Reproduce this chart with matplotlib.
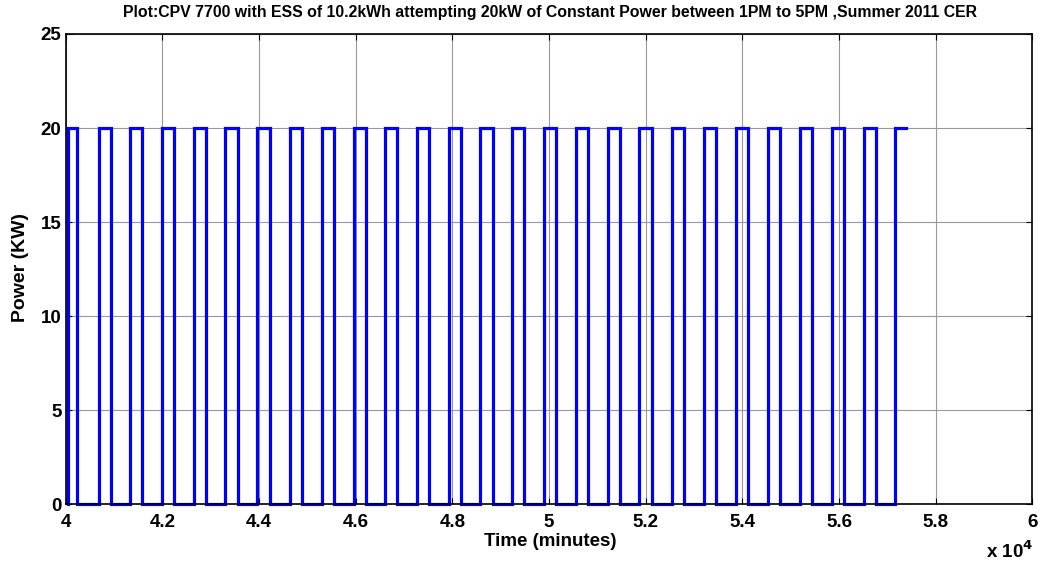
import matplotlib
matplotlib.use("Agg")
import matplotlib.pyplot as plt
from matplotlib.ticker import FuncFormatter, MultipleLocator

# Pulse edges (time in minutes)
rise_times = [40043, 40685, 41332, 41995, 42650, 43304, 43966, 44637, 45305, 45967,
              46608, 47270, 47926, 48580, 49236, 49892, 50560, 51216, 51870, 52540,
              53202, 53871, 54527, 55195, 55857, 56513, 57167]
fall_times = [40240, 40939, 41586, 42249, 42904, 43558, 44220, 44891, 45559, 46221,
              46862, 47524, 48180, 48834, 49490, 50146, 50814, 51470, 52124, 52794,
              53456, 54125, 54781, 55449, 56111, 56767]
end_time = 57378
power_on = 20
power_off = 0

# Build step trace
xs, ys = [], []
for i, r in enumerate(rise_times):
    xs += [r, r]
    ys += [power_off, power_on]
    if i < len(fall_times):
        f = fall_times[i]
        xs += [f, f]
        ys += [power_on, power_off]
    else:
        xs.append(end_time)
        ys.append(power_on)

plt.rcParams['font.family'] = ['Liberation Sans', 'DejaVu Sans']
plt.rcParams['font.weight'] = 'bold'

W, H = 1044, 563
fig = plt.figure(figsize=(W/100, H/100), dpi=100)
ax = fig.add_axes([65.7/W, 1 - 504.3/H, (1032.3-65.7)/W, (504.3-34)/H])

ax.plot(xs, ys, color='#0000ff', lw=2.3, solid_joinstyle='miter', clip_on=False, zorder=2)

ax.set_xlim(40000, 60000)
ax.set_ylim(0, 25)
ax.xaxis.set_major_locator(MultipleLocator(2000))
ax.yaxis.set_major_locator(MultipleLocator(5))
ax.xaxis.set_major_formatter(FuncFormatter(lambda v, p: f"{v/1e4:g}"))

ax.grid(True, color='#999999', lw=0.8, ls='-')
ax.set_axisbelow(True)
ax.tick_params(direction='in', top=True, right=True, length=4, width=0.8,
               labelsize=13.5)
ax.tick_params(axis='x', pad=7)
ax.tick_params(axis='y', pad=3)
for lab in ax.get_xticklabels() + ax.get_yticklabels():
    lab.set_fontweight('bold')
for s in ax.spines.values():
    s.set_linewidth(1.2)
    s.set_zorder(2.5)

fig.text(550/W, 1 - 541/H, 'Time (minutes)', ha='center', va='center',
         fontsize=13.5, fontweight='bold')
fig.text(20.5/W, 1 - 267/H, 'Power (KW)', ha='center', va='center', rotation=90,
         fontsize=14, fontweight='bold')
fig.text(550/W, 1 - 12/H,
         'Plot:CPV 7700 with ESS of 10.2kWh attempting 20kW of Constant Power between 1PM to 5PM ,Summer 2011 CER',
         ha='center', va='center', fontsize=11.4, fontweight='bold')
fig.text(1033/W, 1 - 551/H, r'x 10$^{\mathbf{4}}$', ha='right', va='center',
         fontsize=13.5, fontweight='bold')

fig.savefig('out.png', dpi=100)
